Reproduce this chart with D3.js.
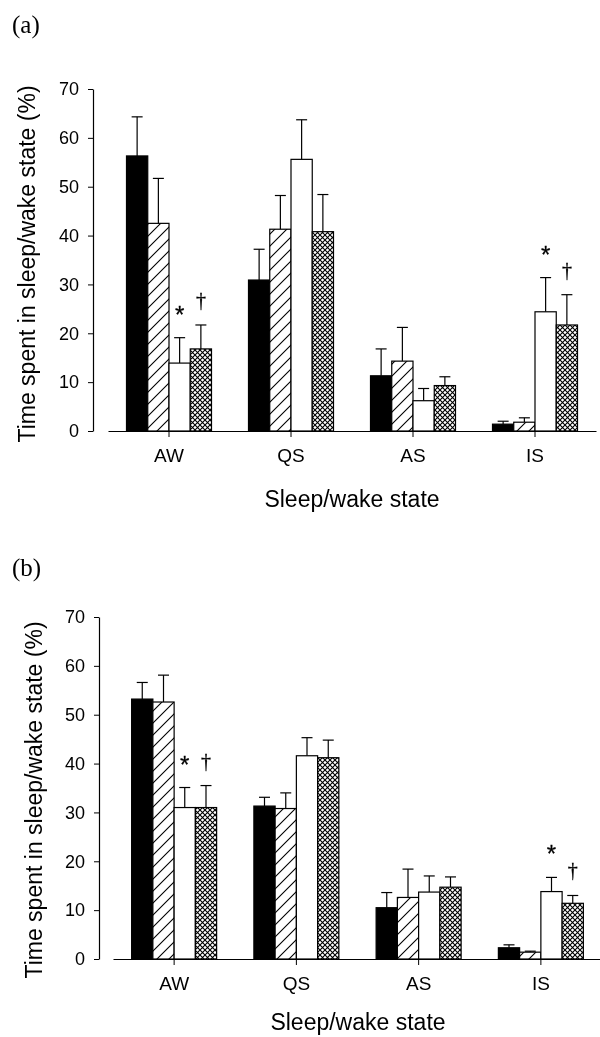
<!DOCTYPE html>
<html><head><meta charset="utf-8">
<script src="https://cdn.jsdelivr.net/npm/d3@7"></script>
<style>body{margin:0;background:#fff}svg{display:block;filter:grayscale(1)}</style>
</head><body>
<svg id="c" width="600" height="1037"></svg>
<script>
// ---- data ----
const categories = ["AW", "QS", "AS", "IS"];
const seriesKeys = ["black", "hatched", "open", "crosshatch"];
const yTicks = [0, 10, 20, 30, 40, 50, 60, 70];
// panel (a): means per series (AW, QS, AS, IS)
const meanA_black = [56.3, 30.9, 11.3, 1.4];
const meanA_hatched = [42.5, 41.3, 14.3, 1.8];
const meanA_open = [13.9, 55.6, 6.2, 24.4];
const meanA_cross = [16.8, 40.8, 9.3, 21.7];
// panel (a): upper error bar ends
const errA_black = [64.3, 37.2, 16.8, 2.0];
const errA_hatched = [51.7, 48.2, 21.2, 2.7];
const errA_open = [19.1, 63.7, 8.7, 31.4];
const errA_cross = [21.7, 48.4, 11.1, 27.9];
// panel (b)
const meanB_black = [53.2, 31.3, 10.5, 2.3];
const meanB_hatched = [52.6, 30.8, 12.6, 1.4];
const meanB_open = [31.0, 41.6, 13.7, 13.8];
const meanB_cross = [31.0, 41.2, 14.7, 11.4];
const errB_black = [56.6, 33.1, 13.6, 2.9];
const errB_hatched = [58.1, 34.0, 18.4, 1.6];
const errB_open = [35.1, 45.3, 17.0, 16.7];
const errB_cross = [35.5, 44.8, 16.8, 13.0];
// significance marks: [category, series, symbol]
const marksA = [["AW", "open", "*"], ["AW", "crosshatch", "†"], ["IS", "open", "*"], ["IS", "crosshatch", "†"]];
const marksB = [["AW", "open", "*"], ["AW", "crosshatch", "†"], ["IS", "open", "*"], ["IS", "crosshatch", "†"]];

const SANS = "Liberation Sans, Arial, sans-serif";
const SERIF = "Liberation Serif, Times New Roman, serif";

const svg = d3.select("#c");
const defs = svg.append("defs");
// hatch pattern
const ph = defs.append("pattern").attr("id", "hatch").attr("patternUnits", "userSpaceOnUse")
  .attr("width", 12).attr("height", 12);
ph.append("rect").attr("width", 12).attr("height", 12).attr("fill", "#fff");
ph.append("path").attr("d", "M-3,3 L3,-3 M0,12 L12,0 M9,15 L15,9").attr("stroke", "#000").attr("stroke-width", 1.1);
// crosshatch pattern
const pc = defs.append("pattern").attr("id", "cross").attr("patternUnits", "userSpaceOnUse")
  .attr("width", 5).attr("height", 5);
pc.append("rect").attr("width", 5).attr("height", 5).attr("fill", "#fff");
pc.append("path").attr("d", "M0,0 L5,5 M0,5 L5,0").attr("stroke", "#000").attr("stroke-width", 1.1);

const fills = {black: "#000", hatched: "url(#hatch)", open: "#fff", crosshatch: "url(#cross)"};

function panel(cfg) {
  const g = svg.append("g");
  const y = d3.scaleLinear().domain([0, 70]).range([cfg.y0, cfg.y70]);
  const x0 = d3.scaleBand().domain(categories).range(cfg.xr).paddingInner(0).paddingOuter(0);
  const groupW = 85;
  const x1 = d3.scaleBand().domain(seriesKeys).range([0, groupW]);
  const off = (x0.bandwidth() - groupW) / 2;

  const data = [];
  seriesKeys.forEach((s, si) => {
    categories.forEach((c, ci) => {
      data.push({c, s, v: cfg.means[si][ci], e: cfg.errs[si][ci]});
    });
  });

  // y axis
  const ya = g.append("g").attr("transform", `translate(${cfg.yx},0)`)
    .call(d3.axisLeft(y).tickValues(yTicks).tickSize(5).tickPadding(9).tickSizeOuter(0));
  ya.select(".domain").attr("stroke", "#000").attr("stroke-width", 1.2);
  ya.selectAll("line").attr("stroke", "#000");
  ya.selectAll("text").attr("font-family", SANS).attr("font-size", 18).attr("fill", "#000");

  // x axis
  const xa = g.append("g").attr("transform", `translate(0,${cfg.y0})`)
    .call(d3.axisBottom(x0).tickSize(6).tickPadding(12).tickSizeOuter(0));
  xa.select(".domain").attr("stroke", "#000").attr("stroke-width", 1.2);
  xa.selectAll("line").attr("stroke", "#000");
  xa.selectAll("text").attr("font-family", SANS).attr("font-size", 19).attr("fill", "#000");

  // error bars
  const eb = g.append("g").attr("stroke", "#000").attr("stroke-width", 1.2);
  data.forEach(d => {
    const cx = x0(d.c) + off + x1(d.s) + x1.bandwidth() / 2;
    eb.append("line").attr("x1", cx).attr("x2", cx).attr("y1", y(d.v)).attr("y2", y(d.e));
    eb.append("line").attr("x1", cx - 5.5).attr("x2", cx + 5.5).attr("y1", y(d.e)).attr("y2", y(d.e));
  });

  // bars
  g.append("g").selectAll("rect").data(data).join("rect")
    .attr("x", d => x0(d.c) + off + x1(d.s))
    .attr("width", x1.bandwidth())
    .attr("y", d => y(d.v))
    .attr("height", d => y(0) - y(d.v))
    .attr("fill", d => fills[d.s])
    .attr("stroke", "#000").attr("stroke-width", 1.2);

  // marks
  cfg.marks.forEach(([c, s, sym]) => {
    const idx = categories.indexOf(c), si = seriesKeys.indexOf(s);
    const cx = x0(c) + off + x1(s) + x1.bandwidth() / 2;
    const top = y(cfg.errs[si][idx]);
    g.append("text").attr("x", cx).attr("y", sym === "*" ? top - 15 : top - 18)
      .attr("text-anchor", "middle")
      .attr("font-family", sym === "*" ? SANS : SERIF)
      .attr("font-size", sym === "*" ? 24 : 20).attr("fill", "#000")
      .attr("stroke", "#000").attr("stroke-width", 0.3).text(sym);
  });

  // titles
  g.append("text").attr("transform", `translate(${cfg.ytx},${cfg.yty}) rotate(-90)`)
    .attr("text-anchor", "middle").attr("font-family", SANS)
    .attr("font-size", 23).attr("fill", "#000").text("Time spent in sleep/wake state (%)");
  g.append("text").attr("x", cfg.xtx).attr("y", cfg.xty).attr("text-anchor", "middle")
    .attr("font-family", SANS).attr("font-size", 23).attr("fill", "#000")
    .text("Sleep/wake state");
  g.append("text").attr("x", cfg.lx).attr("y", cfg.ly)
    .attr("font-family", SERIF).attr("font-size", 25).attr("fill", "#000")
    .text(cfg.label);
}

panel({
  y0: 431, y70: 89, yx: 93, xr: [108, 596],
  means: [meanA_black, meanA_hatched, meanA_open, meanA_cross],
  errs: [errA_black, errA_hatched, errA_open, errA_cross],
  marks: marksA, ytx: 35, yty: 264, xtx: 352, xty: 507, lx: 12, ly: 33, label: "(a)"
});
panel({
  y0: 959, y70: 617, yx: 99, xr: [113, 602],
  means: [meanB_black, meanB_hatched, meanB_open, meanB_cross],
  errs: [errB_black, errB_hatched, errB_open, errB_cross],
  marks: marksB, ytx: 42, yty: 800, xtx: 358, xty: 1030, lx: 12, ly: 576, label: "(b)"
});
</script>
</body></html>
